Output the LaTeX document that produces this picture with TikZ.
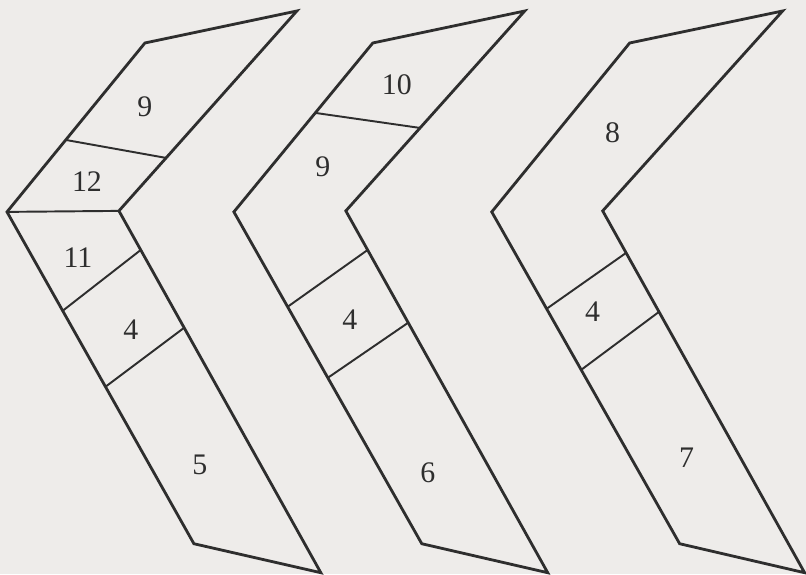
\documentclass[tikz,border=0pt]{standalone}
\usepackage{fontspec}
\setmainfont{Liberation Serif}
\usetikzlibrary{calc}
\definecolor{chInk}{HTML}{2E2E2E}
\definecolor{chPaper}{HTML}{EEECEA}
\tikzset{
  outline/.style={draw=chInk, line width=1.6pt, line join=miter},
  divider/.style={draw=chInk, line width=1.1pt},
  cell/.style={text=chInk, font=\fontsize{17}{20}\selectfont, inner sep=0pt}
}
\begin{document}
\begin{tikzpicture}[x=0.02cm, y=-0.02cm]
  \fill[chPaper] (0,0) rectangle (806,574);

  % first chevron
  \coordinate (l1) at (7,212);
  \coordinate (t1) at (145,43);
  \coordinate (r1) at (297,11);
  \coordinate (i1) at (119,211);
  \coordinate (e1) at (321,573);
  \coordinate (b1) at (194,544);
  \draw[outline] (t1) -- (r1) -- (i1) -- (e1) -- (b1) -- (l1) -- cycle;
  \draw[divider] (l1) -- (i1);
  \draw[divider] ($(l1)!0.426!(t1)$) -- ($(i1)!0.265!(r1)$);
  \draw[divider] ($(l1)!0.298!(b1)$) -- ($(i1)!0.108!(e1)$);
  \draw[divider] ($(l1)!0.527!(b1)$) -- ($(i1)!0.323!(e1)$);
  \node[cell] (c1-9) at (145,107) {9};
  \node[cell] (c1-12) at (87,182) {12};
  \node[cell] (c1-11) at (78,258) {11};
  \node[cell] (c1-4) at (131,330) {4};
  \node[cell] (c1-5) at (200,465) {5};

  % second chevron
  \coordinate (l2) at (234,212);
  \coordinate (t2) at (373,43);
  \coordinate (r2) at (525,11);
  \coordinate (i2) at (346,211);
  \coordinate (e2) at (548,573);
  \coordinate (b2) at (422,544);
  \draw[outline] (t2) -- (r2) -- (i2) -- (e2) -- (b2) -- (l2) -- cycle;
  \draw[divider] ($(l2)!0.586!(t2)$) -- ($(i2)!0.415!(r2)$);
  \draw[divider] ($(l2)!0.286!(b2)$) -- ($(i2)!0.108!(e2)$);
  \draw[divider] ($(l2)!0.500!(b2)$) -- ($(i2)!0.309!(e2)$);
  \node[cell] (c2-10) at (397,85) {10};
  \node[cell] (c2-9) at (323,167) {9};
  \node[cell] (c2-4) at (350,320) {4};
  \node[cell] (c2-6) at (428,473) {6};

  % third chevron
  \coordinate (l3) at (492,212);
  \coordinate (t3) at (630,43);
  \coordinate (r3) at (783,11);
  \coordinate (i3) at (603,211);
  \coordinate (e3) at (805,573);
  \coordinate (b3) at (680,544);
  \draw[outline] (t3) -- (r3) -- (i3) -- (e3) -- (b3) -- (l3) -- cycle;
  \draw[divider] ($(l3)!0.292!(b3)$) -- ($(i3)!0.116!(e3)$);
  \draw[divider] ($(l3)!0.476!(b3)$) -- ($(i3)!0.279!(e3)$);
  \node[cell] (c3-8) at (613,133) {8};
  \node[cell] (c3-4) at (593,312) {4};
  \node[cell] (c3-7) at (687,458) {7};
\end{tikzpicture}
\end{document}
